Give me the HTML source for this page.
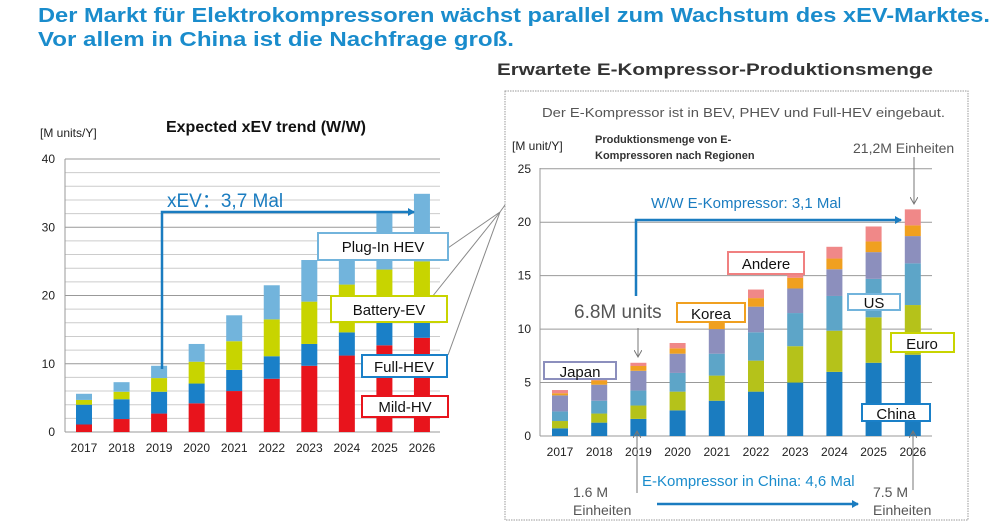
<!DOCTYPE html><html><head><meta charset="utf-8"><style>body{margin:0;background:#fff}svg{display:block;font-family:"Liberation Sans",sans-serif}</style></head><body>
<svg id="s" width="1000" height="527" viewBox="0 0 1000 527" xmlns="http://www.w3.org/2000/svg">
<defs>
<marker id="ab" markerWidth="8" markerHeight="8" refX="6" refY="4" orient="auto" markerUnits="userSpaceOnUse"><path d="M0,0 L7,4 L0,8 Z" fill="#1a7cc0"/></marker>
<marker id="ag" markerWidth="8" markerHeight="8" refX="6" refY="4" orient="auto" markerUnits="userSpaceOnUse"><path d="M0,0 L7,4 L0,8" fill="none" stroke="#777" stroke-width="1"/></marker>
</defs>
<text x="38" y="22" font-size="20" font-weight="bold" fill="#1a8ccc" textLength="952" lengthAdjust="spacingAndGlyphs">Der Markt für Elektrokompressoren wächst parallel zum Wachstum des xEV-Marktes.</text>
<text x="38" y="46" font-size="20" font-weight="bold" fill="#1a8ccc" textLength="476" lengthAdjust="spacingAndGlyphs">Vor allem in China ist die Nachfrage groß.</text>
<text x="497" y="75" font-size="17" font-weight="bold" fill="#333" textLength="436" lengthAdjust="spacingAndGlyphs">Erwartete E-Kompressor-Produktionsmenge</text>
<rect x="505" y="91" width="463" height="429" fill="none" stroke="#999" stroke-dasharray="1.5,1"/>
<g id="g"></g>
<text x="266" y="132" font-size="16" font-weight="bold" text-anchor="middle" fill="#111">Expected  xEV trend (W/W)</text>
<text x="40" y="137" font-size="12" fill="#222">[M units/Y]</text>
<g stroke="#888" fill="none"><line x1="500" y1="212" x2="445" y2="250"/><line x1="500" y1="212" x2="432" y2="297"/><line x1="500" y1="212" x2="448" y2="355"/><line x1="500" y1="212" x2="505" y2="205"/></g>
<text x="542" y="117" font-size="13" fill="#555" textLength="403" lengthAdjust="spacingAndGlyphs">Der E-Kompressor ist in BEV, PHEV und Full-HEV eingebaut.</text>
<text x="512" y="150" font-size="12" fill="#222">[M unit/Y]</text>
<text x="595" y="143" font-size="11" font-weight="bold" fill="#333">Produktionsmenge von E-</text>
<text x="595" y="159" font-size="11" font-weight="bold" fill="#333">Kompressoren nach Regionen</text>
<text x="853" y="153" font-size="14" fill="#555">21,2M Einheiten</text>
<line x1="914" y1="157" x2="914" y2="203" stroke="#777" marker-end="url(#ag)"/>
<polyline points="162,369 162,212 414,212" fill="none" stroke="#1a7cc0" stroke-width="2.5" marker-end="url(#ab)"/>
<text x="167" y="207" font-size="19" fill="#1a7cc0">xEV：3,7 Mal</text>
<polyline points="636,296 636,220 901,220" fill="none" stroke="#1a7cc0" stroke-width="2.5" marker-end="url(#ab)"/>
<text x="651" y="208" font-size="15" fill="#1a7cc0">W/W E-Kompressor: 3,1 Mal</text>
<text x="574" y="318" font-size="19" fill="#555">6.8M units</text>
<line x1="638" y1="328" x2="638" y2="356" stroke="#777" marker-end="url(#ag)"/>
<line x1="637" y1="493" x2="637" y2="432" stroke="#777" marker-end="url(#ag)"/>
<line x1="913" y1="490" x2="913" y2="432" stroke="#777" marker-end="url(#ag)"/>
<text x="642" y="486" font-size="15" fill="#1a8ccc">E-Kompressor in China: 4,6 Mal</text>
<text x="573" y="497" font-size="14" fill="#555">1.6 M</text><text x="573" y="515" font-size="14" fill="#555">Einheiten</text>
<text x="873" y="497" font-size="14" fill="#555">7.5 M</text><text x="873" y="515" font-size="14" fill="#555">Einheiten</text>
<line x1="657" y1="504" x2="858" y2="504" stroke="#1a7cc0" stroke-width="2.5" marker-end="url(#ab)"/>
<g font-size="15" text-anchor="middle" fill="#111">
<rect x="318" y="233" width="130" height="27" fill="#fff" stroke="#72b4dc" stroke-width="2"/><text x="383" y="252">Plug-In HEV</text>
<rect x="331" y="296" width="116" height="26" fill="#fff" stroke="#c8d400" stroke-width="2"/><text x="389" y="315">Battery-EV</text>
<rect x="362" y="355" width="85" height="22" fill="#fff" stroke="#1a80c8" stroke-width="2"/><text x="404" y="372">Full-HEV</text>
<rect x="362" y="396" width="86" height="21" fill="#fff" stroke="#e8141c" stroke-width="2"/><text x="405" y="412">Mild-HV</text>
<rect x="677" y="303" width="68" height="19" fill="#fff" stroke="#f0a020" stroke-width="2"/><text x="711" y="319">Korea</text>
<rect x="728" y="252" width="76" height="22" fill="#fff" stroke="#f08080" stroke-width="2"/><text x="766" y="269">Andere</text>
<rect x="848" y="294" width="52" height="16" fill="#fff" stroke="#72b4dc" stroke-width="2"/><text x="874" y="308">US</text>
<rect x="891" y="333" width="63" height="19" fill="#fff" stroke="#c8d400" stroke-width="2"/><text x="922" y="349">Euro</text>
<rect x="862" y="404" width="68" height="17" fill="#fff" stroke="#1a80c8" stroke-width="2"/><text x="896" y="419">China</text>
<rect x="544" y="362" width="72" height="17" fill="#fff" stroke="#8c8fbd" stroke-width="2"/><text x="580" y="377">Japan</text>
</g>
</svg>
<script>
var g=document.getElementById('g'),h='';
function L(x1,y1,x2,y2,c){h+='<line x1="'+x1+'" y1="'+y1+'" x2="'+x2+'" y2="'+y2+'" stroke="'+c+'"/>';}
function T(x,y,t,a){h+='<text x="'+x+'" y="'+y+'" font-size="12" fill="#222" text-anchor="'+a+'">'+t+'</text>';}
// left grid
for(var v=0;v<=40;v+=2){var y=432-v*6.825;L(65,y,440,y,v%10==0?'#999':'#ccc');if(v%10==0)T(55,y+4,v,'end');}
L(65,159,65,432,'#999');
var yrs=[2017,2018,2019,2020,2021,2022,2023,2024,2025,2026];
var Ld=[[1.1,4,4.7,5.6],[1.9,4.8,5.9,7.3],[2.7,5.9,7.9,9.7],[4.2,7.1,10.3,12.9],[6,9.1,13.3,17.1],[7.8,11.1,16.5,21.5],[9.7,12.9,19.1,25.2],[11.2,14.6,21.6,28],[12.7,16,23.8,32.3],[13.8,16,25,34.9]];
var Lc=['#e8141c','#1a80c8','#c8d400','#72b4dc'];
yrs.forEach(function(yr,i){var cx=84+i*37.55,p=0;Ld[i].forEach(function(v,k){var y1=432-v*6.825,y0=432-p*6.825;h+='<rect x="'+(cx-8)+'" y="'+y1+'" width="16" height="'+(y0-y1)+'" fill="'+Lc[k]+'"/>';p=v;});T(cx,452,yr,'middle');});
// right grid
for(var v=0;v<=25;v+=5){var y=436-v*10.69;L(540,y,932,y,'#999');T(531,y+4,v,'end');}
L(540,168,540,436,'#999');
var Rd=[[.72,1.4,2.3,3.8,4,4.3],[1.25,2.1,3.3,4.8,5.2,5.4],[1.6,2.85,4.25,6.1,6.55,6.85],[2.4,4.15,5.9,7.7,8.2,8.7],[3.3,5.65,7.7,10,10.7,11],[4.15,7.05,9.7,12.1,12.9,13.7],[5,8.4,11.5,13.8,14.8,15.3],[6,9.85,13.1,15.6,16.6,17.7],[6.85,11.1,14.7,17.2,18.2,19.6],[7.6,12.25,16.15,18.7,19.7,21.2]];
var Rc=['#1a7cc0','#b5c21a','#5da5c8','#8c8fbd','#f0a020','#f08888'];
yrs.forEach(function(yr,i){var cx=560+i*39.2,p=0;Rd[i].forEach(function(v,k){var y1=436-v*10.69,y0=436-p*10.69;h+='<rect x="'+(cx-8)+'" y="'+y1+'" width="16" height="'+(y0-y1)+'" fill="'+Rc[k]+'"/>';p=v;});T(cx,456,yr,'middle');});
g.innerHTML=h;
</script>
</body></html>
